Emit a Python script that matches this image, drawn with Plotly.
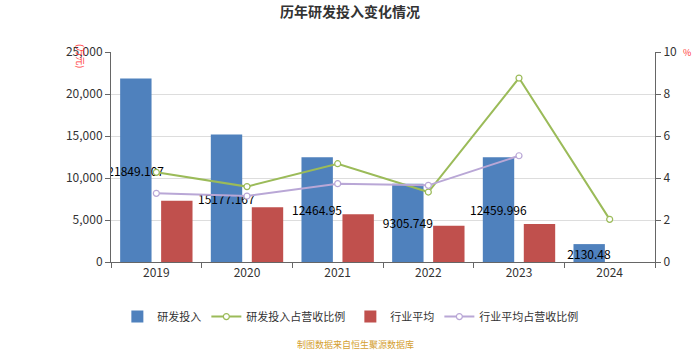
import plotly.graph_objects as go

years = ["2019", "2020", "2021", "2022", "2023", "2024"]
rd_invest = [21849.107, 15177.167, 12464.95, 9305.749, 12459.996, 2130.48]
rd_labels = ["21849.107", "15177.167", "12464.95", "9305.749", "12459.996", "2130.48"]
rd_ratio = [4.27, 3.59, 4.68, 3.33, 8.76, 2.03]
ind_avg = [7300, 6510, 5680, 4320, 4520, None]
ind_ratio = [3.27, 3.14, 3.73, 3.65, 5.06, None]

FONT = "Noto Sans CJK SC, Microsoft YaHei, sans-serif"

fig = go.Figure()
fig.add_trace(go.Bar(
    x=years, y=rd_invest, name="研发投入", marker_color="#4f81bd",
    marker_line_width=0,
    text=rd_labels, textposition="inside", insidetextanchor="middle",
    textfont=dict(color="#000000", size=12, family=FONT), textangle=0,
    yaxis="y", offsetgroup="a"))
fig.add_trace(go.Scatter(
    x=years, y=rd_ratio, name="研发投入占营收比例", mode="lines+markers",
    line=dict(color="#9bbb59", width=2),
    marker=dict(symbol="circle", size=6, color="white", line=dict(color="#9bbb59", width=1.2)),
    yaxis="y2"))
fig.add_trace(go.Bar(
    x=years, y=ind_avg, name="行业平均", marker_color="#c0504d",
    marker_line_width=0, yaxis="y", offsetgroup="b"))
fig.add_trace(go.Scatter(
    x=years, y=ind_ratio, name="行业平均占营收比例", mode="lines+markers",
    line=dict(color="#b9a7d6", width=2),
    marker=dict(symbol="circle", size=6, color="white", line=dict(color="#b9a7d6", width=1.2)),
    yaxis="y2"))

fig.update_layout(
    width=700, height=350,
    margin=dict(l=111, r=45, t=52, b=88),
    paper_bgcolor="white", plot_bgcolor="white",
    font=dict(family=FONT, size=12, color="#333333"),
    title=dict(text="<b>历年研发投入变化情况</b>", x=0.5, xanchor="center", y=0.965, yanchor="middle",
               font=dict(size=14, color="#333333", family=FONT)),
    barmode="group", bargap=0.096, bargroupgap=0.234,
    uniformtext=dict(minsize=12, mode="show"),
    xaxis=dict(type="category", showline=True, linecolor="#666666", linewidth=1,
               ticks="outside", ticklen=5, tickcolor="#666666", tickson="boundaries",
               tickfont=dict(size=12, color="#333333"), showgrid=False),
    yaxis=dict(range=[0, 25000], dtick=5000, tickformat=",", showline=True, linecolor="#666666",
               ticks="outside", ticklen=5, tickcolor="#666666", showgrid=True, gridcolor="#dddddd",
               zeroline=False, tickfont=dict(size=12, color="#333333")),
    yaxis2=dict(range=[0, 10], dtick=2, overlaying="y", side="right", showline=True,
                linecolor="#666666", ticks="outside", ticklen=5, tickcolor="#666666",
                showgrid=False, zeroline=False, tickfont=dict(size=12, color="#333333")),
    legend=dict(orientation="h", x=0.44, xanchor="center", y=-0.26, yanchor="middle",
                font=dict(size=11, color="#333333"), itemwidth=30, traceorder="normal"),
    showlegend=True,
)

fig.add_annotation(text="(万元)", xref="paper", yref="paper", x=-0.055, y=0.98,
                   textangle=90, showarrow=False, font=dict(size=9, color="#ff3333"),
                   xanchor="center", yanchor="middle")
fig.add_annotation(text="%", xref="paper", yref="paper", x=1.058, y=1.0,
                   showarrow=False, font=dict(size=9, color="#ff3333"),
                   xanchor="center", yanchor="middle")
fig.add_annotation(text="制图数据来自恒生聚源数据库", xref="paper", yref="paper", x=0.45, y=-0.395,
                   showarrow=False, font=dict(size=9, color="#d4a030"),
                   xanchor="center", yanchor="middle")

fig.write_html("out.html")
